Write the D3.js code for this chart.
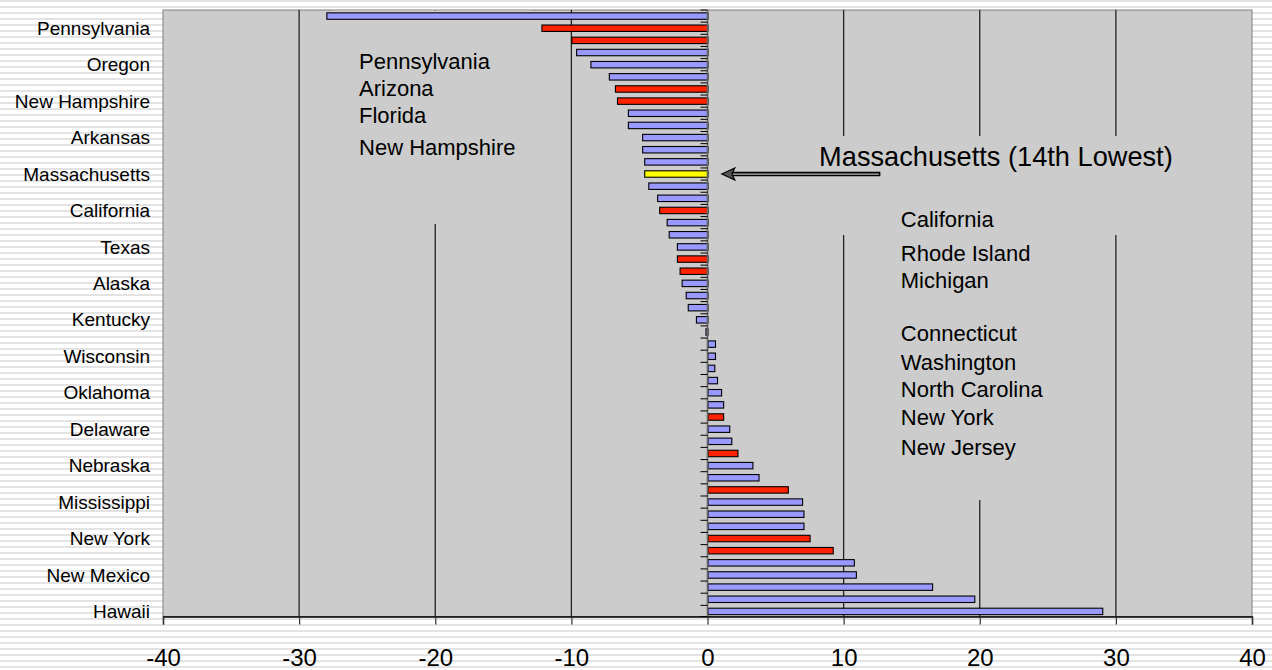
<!DOCTYPE html>
<html>
<head>
<meta charset="utf-8">
<script src="https://cdnjs.cloudflare.com/ajax/libs/d3/7.8.5/d3.min.js"></script>
<style>
  html, body { margin: 0; padding: 0; background: #ffffff; }
  svg { display: block; }
  text { font-family: "Liberation Sans", Arial, sans-serif; fill: #000; }
</style>
</head>
<body>
<svg id="chart" width="1272" height="670"></svg>
<script>
// Categories listed bottom (index 0) to top; only every third one is labelled on the axis.
const categories = [
  "Hawaii", "", "", "New Mexico", "", "New Jersey", "New York", "", "", "Mississippi",
  "North Carolina", "", "Nebraska", "Washington", "", "Delaware", "Connecticut", "", "Oklahoma", "",
  "", "Wisconsin", "", "", "Kentucky", "", "", "Alaska", "Michigan", "Rhode Island",
  "Texas", "", "", "California", "", "", "Massachusetts", "", "", "Arkansas",
  "", "", "New Hampshire", "Florida", "", "Oregon", "", "Arizona", "Pennsylvania", ""
];

// Percent change per state, same order as categories.
const values = [
  29.0, 19.6, 16.5, 10.9, 10.75, 9.2, 7.5, 7.05, 7.05, 6.95,
  5.9, 3.75, 3.3, 2.2, 1.75, 1.6, 1.15, 1.15, 1.0, 0.7,
  0.5, 0.55, 0.55, -0.15, -0.85, -1.45, -1.6, -1.9, -2.05, -2.25,
  -2.25, -2.85, -3.0, -3.55, -3.7, -4.35, -4.65, -4.65, -4.8, -4.8,
  -5.85, -5.85, -6.65, -6.8, -7.25, -8.6, -9.65, -10.0, -12.2, -28.0
];

// Bar group: 0 = other states, 1 = highlighted states, 2 = Massachusetts.
const groups = [
  0, 0, 0, 0, 0, 1, 1, 0, 0, 0,
  1, 0, 0, 1, 0, 0, 1, 0, 0, 0,
  0, 0, 0, 0, 0, 0, 0, 0, 1, 1,
  0, 0, 0, 1, 0, 0, 2, 0, 0, 0,
  0, 0, 1, 1, 0, 0, 0, 1, 1, 0
];
const groupColors = ["#9999ff", "#ff2200", "#ffff00"];

const xTicks = [-40, -30, -20, -10, 0, 10, 20, 30, 40];

// Text blocks placed inside the plot.
const leftNotes = ["Pennsylvania", "Arizona", "Florida", "New Hampshire"];
const rightNotesA = ["California", "Rhode Island", "Michigan"];
const rightNotesB = ["Connecticut", "Washington", "North Carolina", "New York", "New Jersey"];
const calloutText = "Massachusetts (14th Lowest)";

const svg = d3.select("#chart");
const W = 1272, H = 670;
const plot = { left: 163, right: 1252, top: 10, bottom: 616.5 };

// Striped backdrop behind the whole chart
const defs = svg.append("defs");
const pat = defs.append("pattern")
  .attr("id", "stripes").attr("patternUnits", "userSpaceOnUse")
  .attr("width", 8).attr("height", 6);
pat.append("rect").attr("width", 8).attr("height", 6).attr("fill", "#ffffff");
pat.append("rect").attr("y", 0).attr("width", 8).attr("height", 2).attr("fill", "#e3e3e3");
svg.append("rect").attr("width", W).attr("height", H).attr("fill", "url(#stripes)");

const x = d3.scaleLinear().domain([-40, 40]).range([plot.left, plot.right]);
const y = d3.scaleBand()
  .domain(d3.range(categories.length))
  .range([plot.bottom + 1, plot.top])
  .paddingInner(0.47)
  .paddingOuter(0.235);

// Plot area
svg.append("rect")
  .attr("x", plot.left).attr("y", plot.top)
  .attr("width", plot.right - plot.left).attr("height", plot.bottom - plot.top)
  .attr("fill", "#cccccc").attr("stroke", "#808080").attr("stroke-width", 1);

// Vertical gridlines
svg.append("g").selectAll("line")
  .data(xTicks.filter(t => t !== 0 && t !== -40 && t !== 40))
  .join("line")
  .attr("x1", d => x(d)).attr("x2", d => x(d))
  .attr("y1", plot.top).attr("y2", plot.bottom)
  .attr("stroke", "#222").attr("stroke-width", 1.3);

// Text boxes share the plot fill and sit over the gridlines
const boxes = [
  { x0: -27.5, x1: -13.0, y0: plot.top + 0.5, y1: 224 },
  { x0: 8.0, x1: 34.5, y0: 136, y1: 235 },
  { x0: 13.5, x1: 25.0, y0: 195, y1: 500 }
];
svg.append("g").selectAll("rect").data(boxes).join("rect")
  .attr("x", d => x(d.x0)).attr("width", d => x(d.x1) - x(d.x0))
  .attr("y", d => d.y0).attr("height", d => d.y1 - d.y0)
  .attr("fill", "#cccccc");

// Bars
svg.append("g").selectAll("rect")
  .data(values.map((v, i) => ({ v, i })))
  .join("rect")
  .attr("x", d => x(Math.min(0, d.v)) + 0.5)
  .attr("width", d => Math.abs(x(d.v) - x(0)))
  .attr("y", d => y(d.i))
  .attr("height", y.bandwidth())
  .attr("fill", d => groupColors[groups[d.i]])
  .attr("stroke", "#000").attr("stroke-width", 1.1);

// Category axis along zero
const yG = svg.append("g").attr("transform", `translate(${x(0)},0)`);
yG.append("line")
  .attr("x1", 0).attr("x2", 0).attr("y1", plot.top).attr("y2", plot.bottom)
  .attr("stroke", "#666").attr("stroke-width", 1.6);
// tick marks at the band boundaries
const step = y.step();
yG.selectAll("line.tick")
  .data(d3.range(categories.length + 1))
  .join("line").attr("class", "tick")
  .attr("x1", -7).attr("x2", 0)
  .attr("y1", i => plot.bottom + 1 - i * step + (i === 0 ? -1 : 0))
  .attr("y2", i => plot.bottom + 1 - i * step + (i === 0 ? -1 : 0))
  .attr("stroke", "#000").attr("stroke-width", 1);

// Category labels, every third
svg.append("g").selectAll("text")
  .data(d3.range(0, categories.length, 3))
  .join("text")
  .attr("x", 150)
  .attr("y", i => y(i) + y.bandwidth() / 2)
  .attr("dy", "0.35em")
  .attr("text-anchor", "end")
  .attr("font-size", 19)
  .text(i => categories[i]);

// Value axis
const xAxis = d3.axisBottom(x).tickValues(xTicks).tickSize(8).tickPadding(24)
  .tickFormat(d => String(d));
const xG = svg.append("g").attr("transform", `translate(0,${plot.bottom})`).call(xAxis);
xG.select(".domain").attr("stroke", "#000").attr("stroke-width", 1.4);
xG.selectAll(".tick line").attr("stroke", "#333").attr("stroke-width", 1.2);
xG.selectAll(".tick text")
  .attr("font-size", 24)
  .attr("font-family", "\"Liberation Sans\", Arial, sans-serif")
  .attr("fill", "#000");

// Annotation text blocks
function noteBlock(lines, xv, ys, size) {
  svg.append("g").selectAll("text").data(lines).join("text")
    .attr("x", x(xv)).attr("y", (d, i) => ys[i])
    .attr("dy", "0.35em")
    .attr("font-size", size)
    .text(d => d);
}
noteBlock(leftNotes, -25.6, [61, 88, 115, 147], 22);
noteBlock(rightNotesA, 14.2, [219, 253, 280], 22);
noteBlock(rightNotesB, 14.2, [333, 362, 389, 417, 447], 22);

svg.append("text")
  .attr("x", x(8.2)).attr("y", 156).attr("dy", "0.35em")
  .attr("font-size", 27.2)
  .text(calloutText);

// Callout arrow pointing at the Massachusetts bar
const arrow = svg.append("g");
const ax0 = x(12.7), ax1 = x(1.05), ay = y(36) + y.bandwidth() / 2;
arrow.append("line").attr("x1", ax0).attr("x2", ax1 + 8).attr("y1", ay).attr("y2", ay)
  .attr("stroke", "#000").attr("stroke-width", 4.5);
arrow.append("line").attr("x1", ax0 - 1.5).attr("x2", ax1 + 9).attr("y1", ay).attr("y2", ay)
  .attr("stroke", "#bbbbbb").attr("stroke-width", 1.3);
arrow.append("path")
  .attr("d", `M${ax1},${ay} L${ax1 + 13},${ay - 6} L${ax1 + 10},${ay} L${ax1 + 13},${ay + 6} Z`)
  .attr("fill", "#555").attr("stroke", "#000").attr("stroke-width", 1.2)
  .attr("stroke-linejoin", "miter");
</script>
</body>
</html>
